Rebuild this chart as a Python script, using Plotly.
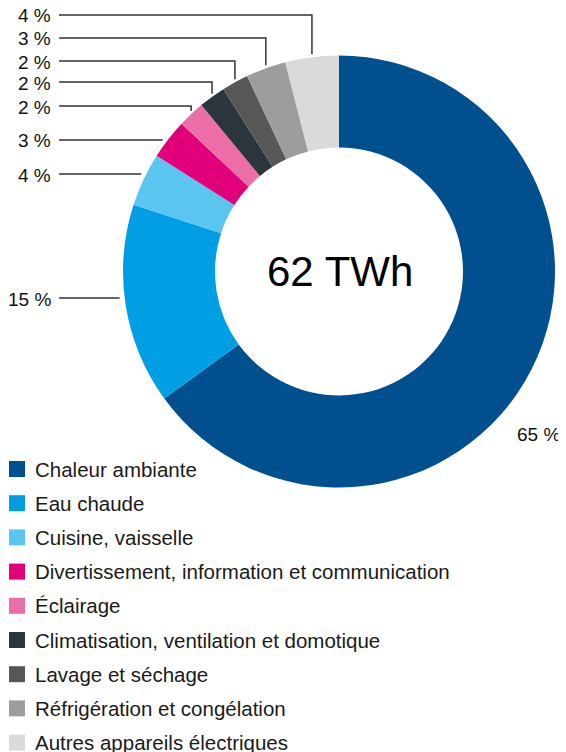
import math

import plotly.graph_objects as go

# data
labels = [
    "Chaleur ambiante",
    "Eau chaude",
    "Cuisine, vaisselle",
    "Divertissement, information et communication",
    "Éclairage",
    "Climatisation, ventilation et domotique",
    "Lavage et séchage",
    "Réfrigération et congélation",
    "Autres appareils électriques",
]
values = [65, 15, 4, 3, 2, 2, 2, 3, 4]
pct_text = ["65 %", "15 %", "4 %", "3 %", "2 %", "2 %", "2 %", "3 %", "4 %"]
total_text = "62 TWh"

colors = [
    "#00508f", "#009fe3", "#5bc5f2", "#e2007a", "#ec6ea6",
    "#2a363b", "#575756", "#9d9d9c", "#dadada",
]

# layout (pixels, measured in the browser window; the page body adds 8px)
OFF = 8
W, H = 566 - OFF, 752 - OFF
CX, CY, R = 339, 271.5, 216
HOLE = 0.574
FONT = "Liberation Sans, Arial, sans-serif"
LINE_COLOUR = "#333333"
LABEL_X = 53          # right edge of the percentage labels
LINE_X0 = 59          # start of the leader lines
# label rows for slices 1..8 (slice 0 is labelled on the right)
LABEL_Y = [None, 298, 174, 140, 106, 82, 61, 38, 15]
ELBOW = [False, False, False, False, True, True, True, True, True]


def px(x):
    return (x - OFF) / W


def py(y):
    return 1 - (y - OFF) / H


fig = go.Figure()
fig.add_trace(
    go.Pie(
        labels=labels,
        values=values,
        sort=False,
        direction="clockwise",
        rotation=0,
        hole=HOLE,
        marker=dict(colors=colors, line=dict(width=0)),
        textinfo="none",
        hoverinfo="label+percent",
        domain=dict(x=[px(CX - R), px(CX + R)], y=[py(CY + R), py(CY - R)]),
    )
)

shapes = []
annotations = []

# leader lines and percentage labels
total = sum(values)
cum = 0
for i, v in enumerate(values):
    mid = (cum + v / 2) / total * 2 * math.pi
    cum += v
    if LABEL_Y[i] is None:
        continue
    ly = LABEL_Y[i]
    if ELBOW[i]:
        x_mid = CX + R * math.sin(mid)
        y_edge = CY - math.sqrt(R ** 2 - (x_mid - CX) ** 2) - 3
        path = f"M {px(LINE_X0)},{py(ly)} L {px(x_mid)},{py(ly)} L {px(x_mid)},{py(y_edge)}"
    else:
        x_edge = CX - math.sqrt(R ** 2 - (ly - CY) ** 2) - 5
        path = f"M {px(LINE_X0)},{py(ly)} L {px(x_edge)},{py(ly)}"
    shapes.append(dict(type="path", xref="paper", yref="paper", path=path,
                       line=dict(color=LINE_COLOUR, width=1.5)))
    annotations.append(dict(x=px(LABEL_X), y=py(ly + 1), xref="paper", yref="paper",
                            text=pct_text[i], showarrow=False, xanchor="right",
                            yanchor="middle", font=dict(size=19, color="#111111", family=FONT)))

# big slice label
annotations.append(dict(x=px(515), y=py(434), xref="paper", yref="paper", text=pct_text[0],
                        showarrow=False, xanchor="left", yanchor="middle",
                        font=dict(size=19, color="#111111", family=FONT)))

# centre text
annotations.append(dict(x=px(CX + 1), y=py(CY), xref="paper", yref="paper", text=total_text,
                        showarrow=False, xanchor="center", yanchor="middle",
                        font=dict(size=42, color="#000000", family=FONT)))

# manual legend
LEG_Y0, LEG_DY, SQ = 469, 34.2, 16
for i, lab in enumerate(labels):
    yc = LEG_Y0 + i * LEG_DY
    shapes.append(dict(type="rect", xref="paper", yref="paper",
                       x0=px(9), x1=px(9 + SQ), y0=py(yc + SQ / 2), y1=py(yc - SQ / 2),
                       fillcolor=colors[i], line=dict(width=0)))
    annotations.append(dict(x=px(33), y=py(yc), xref="paper", yref="paper", text=lab,
                            showarrow=False, xanchor="left", yanchor="middle",
                            font=dict(size=20.5, color="#1a1a1a", family=FONT)))

fig.update_layout(
    width=W,
    height=H,
    margin=dict(l=0, r=0, t=0, b=0),
    showlegend=False,
    paper_bgcolor="white",
    plot_bgcolor="white",
    shapes=shapes,
    annotations=annotations,
)

fig.write_html("out.html")
